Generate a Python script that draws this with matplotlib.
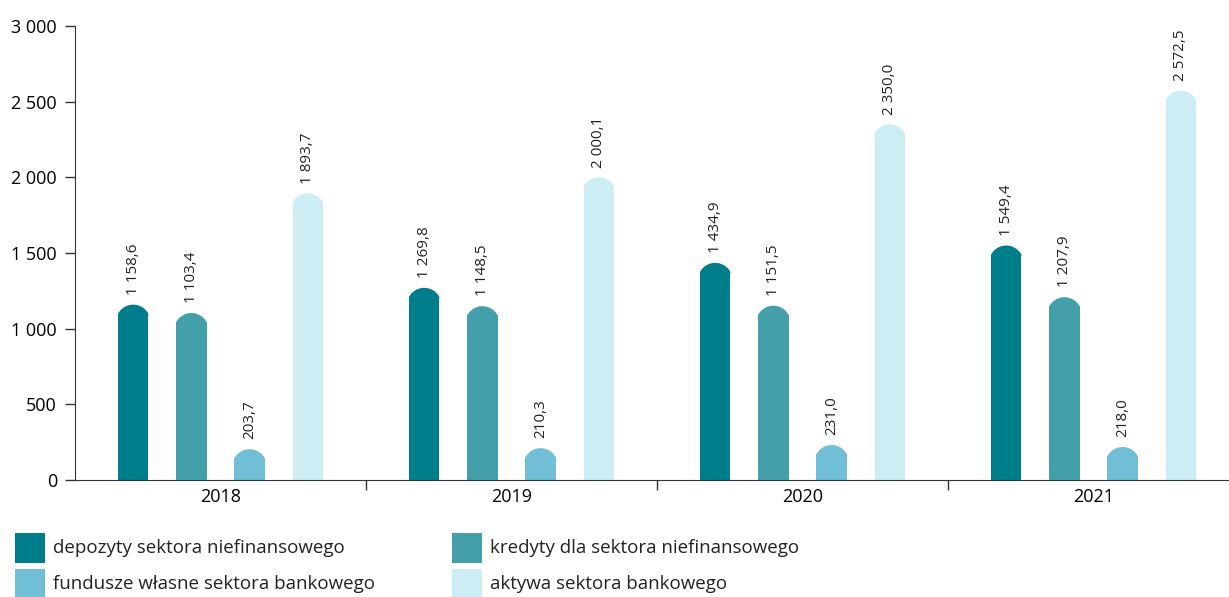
import matplotlib.pyplot as plt
from matplotlib.patches import Rectangle
import numpy as np

plt.rcParams['font.family'] = ['Open Sans', 'DejaVu Sans']

years = ['2018', '2019', '2020', '2021']
series_names = ['depozyty sektora niefinansowego',
                'kredyty dla sektora niefinansowego',
                'fundusze własne sektora bankowego',
                'aktywa sektora bankowego']
depozyty = [1158.6, 1269.8, 1434.9, 1549.4]
kredyty = [1103.4, 1148.5, 1151.5, 1207.9]
fundusze = [203.7, 210.3, 231.0, 218.0]
aktywa = [1893.7, 2000.1, 2350.0, 2572.5]
colors = ['#007d8b', '#43a0aa', '#70bfd6', '#cbedf3']


def fmt(v):
    s = '{:,.1f}'.format(v)
    return s.replace(',', ' ').replace('.', ',')


fig = plt.figure(figsize=(12.29, 5.97), dpi=100)
ax = fig.add_axes([75 / 1229, 1 - 480 / 597, 1 - 75 / 1229, 454 / 597])

x = np.arange(len(years))
offsets = [-0.3, -0.1, 0.1, 0.3]
width = 0.104

# rounded top: circular arc, bar half-width, 9px high
px_x = 291.0          # pixels per x unit
px_y = 454.0 / 3000   # pixels per y unit
half, h = width / 2 * px_x, 9.0
R = (half ** 2 + h ** 2) / (2 * h)
th = np.linspace(-np.arcsin(half / R), np.arcsin(half / R), 40)
arc_dx = R * np.sin(th) / px_x
arc_dy = R * (1 - np.cos(th)) / px_y
cap = h / px_y
lap = 2 / px_y

for vals, off, col in zip([depozyty, kredyty, fundusze, aktywa], offsets, colors):
    for xi, v in zip(x + off, vals):
        ax.bar(xi, v - cap, width=width, color=col, linewidth=0)
        ax.fill(np.r_[xi + arc_dx, xi + width / 2, xi - width / 2],
                np.r_[v - arc_dy, v - cap - lap, v - cap - lap],
                color=col, linewidth=0)
        ax.annotate(fmt(v), (xi, v), xytext=(0, 7), textcoords='offset points',
                    rotation=90, ha='center', va='bottom', fontsize=11,
                    color='#222222')

ax.set_ylim(0, 3000)
ax.set_xlim(-0.5, 3.5 - 10 / 291)
ax.set_yticks(np.arange(0, 3001, 500))
ax.set_yticklabels([fmt(v)[:-2] for v in np.arange(0, 3001, 500)], fontsize=13)
ax.set_xticks(x)
ax.set_xticklabels(years, fontsize=13)
ax.set_xticks([0.5, 1.5, 2.5], minor=True)
ax.tick_params(axis='x', which='major', length=0, pad=6)
ax.tick_params(axis='x', which='minor', length=7, width=1, color='#333333')
ax.tick_params(axis='y', length=7, width=1, color='#333333', pad=6)
for s in ['top', 'right']:
    ax.spines[s].set_visible(False)
for s in ['left', 'bottom']:
    ax.spines[s].set_color('#333333')

# legend
pos = [(15, 533), (452, 533), (15, 569), (452, 569)]
for (px, py), name, col in zip(pos, series_names, colors):
    fig.patches.append(Rectangle((px / 1229, 1 - (py + 30) / 597), 30 / 1229, 30 / 597,
                                 transform=fig.transFigure, color=col, linewidth=0))
    fig.text((px + 38) / 1229, 1 - (py + 15) / 597, name, fontsize=13.5,
             va='center', ha='left', color='#222222')

fig.savefig('out.png', dpi=100)
